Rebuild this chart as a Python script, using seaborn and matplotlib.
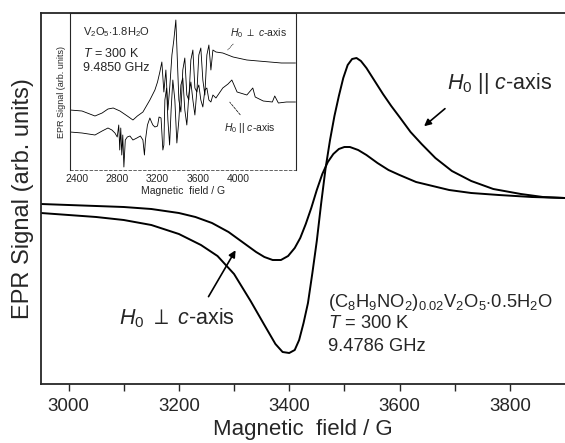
import numpy as np
import pandas as pd
import matplotlib
matplotlib.use('Agg')
import matplotlib.pyplot as plt
import seaborn as sns

# main spectra, C8H9NO2 intercalated V2O5 gel (field in G, signal in arb. units)
perp_field = [2950, 3000, 3050, 3100, 3150, 3200, 3230, 3260, 3290, 3315,
              3340, 3355, 3370, 3385, 3398, 3410, 3420, 3430, 3440, 3450,
              3460, 3470, 3480, 3490, 3500, 3510, 3525, 3540, 3560, 3580,
              3600, 3630, 3660, 3690, 3730, 3780, 3840, 3900]
perp_signal = [-6, -7, -8, -9, -11, -15, -19, -25, -34, -44,
               -54, -59, -62, -62, -58, -50, -40, -26, -10, 8,
               24, 36, 44, 49, 51, 51, 48, 43, 35, 28,
               23, 16, 12, 8, 5, 3, 1, 0]

par_field = [2950, 3000, 3050, 3100, 3150, 3200, 3240, 3270, 3300, 3330,
             3355, 3375, 3388, 3400, 3410, 3418, 3426, 3434, 3442, 3450,
             3458, 3466, 3474, 3482, 3490, 3498, 3506, 3514, 3522, 3530,
             3540, 3555, 3570, 3585, 3600, 3620, 3640, 3665, 3695, 3730,
             3770, 3820, 3860, 3900]
par_signal = [-15, -17, -19, -22, -27, -36, -47, -58, -76, -103,
              -127, -146, -154, -155, -152, -142, -125, -105, -75, -43,
              -5, 30, 58, 82, 102, 120, 133, 139, 140, 137,
              130, 117, 104, 92, 81, 66, 54, 40, 27, 17,
              9, 4, 1, 0]

# inset: V2O5.1.8H2O xerogel (signal read as height above inset bottom)
in_perp_field = [2331, 2450, 2579, 2650, 2708, 2760, 2827, 2900, 2956, 3000,
                 3055, 3124, 3174, 3200, 3223, 3243, 3263, 3283, 3303, 3323,
                 3343, 3362, 3382, 3395, 3412, 3432, 3451, 3471, 3491, 3511,
                 3531, 3551, 3571, 3591, 3610, 3630, 3650, 3670, 3690, 3710,
                 3730, 3750, 3780, 3848, 3950, 4087, 4200, 4315, 4430, 4570]
in_perp_y = [110, 111, 116, 113, 109, 108, 111, 116, 120, 116,
             112, 100, 90, 82, 72, 62, 92, 70, 110, 85,
             55, 40, 20, 55, 100, 112, 70, 58, 95, 100,
             60, 50, 88, 92, 55, 48, 80, 95, 55, 45,
             70, 50, 52, 53, 57, 60, 61, 62, 63, 63]

in_par_field = [2331, 2450, 2579, 2650, 2708, 2747, 2777, 2800, 2815, 2825,
                2835, 2845, 2855, 2866, 2880, 2900, 2926, 2956, 2995, 3030,
                3055, 3070, 3080, 3100, 3124, 3140, 3154, 3174, 3200, 3215,
                3235, 3253, 3263, 3273, 3290, 3303, 3320, 3335, 3352, 3372,
                3392, 3412, 3432, 3451, 3471, 3491, 3511, 3531, 3551, 3571,
                3591, 3610, 3630, 3650, 3670, 3690, 3710, 3730, 3750, 3780,
                3848, 3900, 3938, 3990, 4087, 4146, 4170, 4250, 4340, 4364,
                4400, 4480, 4570]
in_par_y = [132, 133, 135, 131, 128, 130, 133, 137, 125, 150,
            128, 155, 135, 167, 140, 137, 136, 140, 138, 136,
            140, 155, 140, 125, 118, 122, 125, 127, 126, 117,
            118, 150, 145, 100, 88, 120, 145, 110, 80, 100,
            143, 120, 85, 78, 110, 125, 95, 82, 100, 115,
            90, 85, 100, 107, 90, 88, 100, 102, 95, 98,
            88, 84, 80, 92, 95, 88, 97, 101, 102, 96,
            103, 102, 102]

main_df = pd.concat([
    pd.DataFrame({'field': perp_field, 'signal': perp_signal, 'orient': 'perp'}),
    pd.DataFrame({'field': par_field, 'signal': par_signal, 'orient': 'par'}),
])
inset_df = pd.concat([
    pd.DataFrame({'field': in_perp_field, 'signal': [170 - v for v in in_perp_y], 'orient': 'perp'}),
    pd.DataFrame({'field': in_par_field, 'signal': [170 - v for v in in_par_y], 'orient': 'par'}),
])

sns.set_style('ticks')
plt.rcParams['font.family'] = ['Liberation Sans', 'DejaVu Sans']
plt.rcParams['mathtext.fontset'] = 'custom'
plt.rcParams['mathtext.rm'] = 'Liberation Sans'
plt.rcParams['mathtext.it'] = 'Liberation Sans:italic'

fig = plt.figure(figsize=(5.65, 4.43), dpi=100)
ax = fig.add_axes([41 / 565, 59 / 443, 524 / 565, 371 / 443])

sns.lineplot(data=main_df, x='field', y='signal', units='orient', estimator=None,
             sort=False, color='black', lw=1.4, ax=ax)
ax.set_xlim(2950, 3900)
ax.set_ylim(-186, 185)
ax.set_xticks([3000, 3200, 3400, 3600, 3800])
ax.set_xticks([3100, 3300, 3500, 3700], minor=True)
ax.set_yticks([])
ax.tick_params(axis='x', which='both', direction='out', length=5, width=1,
               labelsize=13.5, pad=5)
ax.spines['right'].set_visible(False)
for s in ['left', 'bottom', 'top']:
    ax.spines[s].set_linewidth(1.3)
ax.set_xlabel('Magnetic  field / G', fontsize=16, labelpad=3)
ax.set_ylabel('EPR Signal (arb. units)', fontsize=17, labelpad=5)

ax.text(0.775, 0.811, r'$H_0$ || $c$-axis', transform=ax.transAxes,
        fontsize=15.5, ha='left', va='center')
ax.annotate('', xy=(0.727, 0.690), xytext=(0.775, 0.747),
            xycoords='axes fraction', textcoords='axes fraction',
            arrowprops=dict(arrowstyle='-|>', color='black', lw=1.2,
                            mutation_scale=10))
ax.text(0.149, 0.178, r'$H_0$ $\perp$ $c$-axis', transform=ax.transAxes,
        fontsize=15.5, ha='left', va='center')
ax.annotate('', xy=(0.374, 0.367), xytext=(0.317, 0.229),
            xycoords='axes fraction', textcoords='axes fraction',
            arrowprops=dict(arrowstyle='-|>', color='black', lw=1.2,
                            mutation_scale=10))
ax.text(0.548, 0.221, r'(C$_8$H$_9$NO$_2$)$_{0.02}$V$_2$O$_5$$\cdot$0.5H$_2$O',
        transform=ax.transAxes, fontsize=13.2, ha='left', va='center')
ax.text(0.548, 0.162, r'$T$ = 300 K', transform=ax.transAxes,
        fontsize=13.2, ha='left', va='center')
ax.text(0.548, 0.100, '9.4786 GHz', transform=ax.transAxes,
        fontsize=13.2, ha='left', va='center')

# inset
axi = fig.add_axes([70 / 565, 273 / 443, 226 / 565, 157 / 443])
sns.lineplot(data=inset_df, x='field', y='signal', units='orient', estimator=None,
             sort=False, color='black', lw=0.6, ax=axi)
axi.set_xlim(2331, 4575)
axi.set_ylim(0, 157)
axi.set_xticks([2400, 2800, 3200, 3600, 4000])
axi.set_yticks([])
axi.tick_params(axis='x', length=0, labelsize=7.5, pad=3)
for s in axi.spines.values():
    s.set_linewidth(0.8)
axi.spines['bottom'].set_linestyle((0, (4, 3)))
axi.spines['bottom'].set_linewidth(0.5)
axi.set_xlabel('Magnetic  field / G', fontsize=7.5, labelpad=1)
axi.set_ylabel('EPR Signal (arb. units)', fontsize=6.5, labelpad=3)

axi.text(0.058, 0.879, r'V$_2$O$_5$$\cdot$1.8H$_2$O', transform=axi.transAxes,
         fontsize=8, ha='left', va='center')
axi.text(0.058, 0.740, r'$T$ = 300 K', transform=axi.transAxes,
         fontsize=9, ha='left', va='center')
axi.text(0.058, 0.650, '9.4850 GHz', transform=axi.transAxes,
         fontsize=9, ha='left', va='center')
axi.text(0.708, 0.873, r'$H_0$ $\perp$ $c$-axis', transform=axi.transAxes,
         fontsize=7.5, ha='left', va='center')
axi.annotate('', xy=(0.690, 0.752), xytext=(0.730, 0.815),
             xycoords='axes fraction', textcoords='axes fraction',
             arrowprops=dict(arrowstyle='-', color='black', lw=0.5, ls=':'))
axi.text(0.681, 0.268, r'$H_0$ || $c$-axis', transform=axi.transAxes,
         fontsize=7.5, ha='left', va='center')
axi.annotate('', xy=(0.699, 0.446), xytext=(0.761, 0.338),
             xycoords='axes fraction', textcoords='axes fraction',
             arrowprops=dict(arrowstyle='-', color='black', lw=0.5, ls='--'))

fig.savefig('out.png', dpi=100)
